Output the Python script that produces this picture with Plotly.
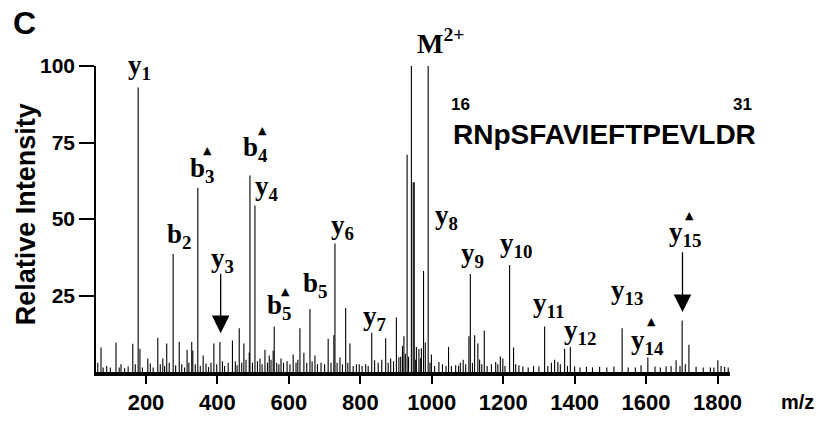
import plotly.graph_objects as go

# ---- data ----
peak_mz = [74, 116, 163, 178, 183, 205, 233, 247, 258, 276, 293, 315, 328, 331, 345, 360,
           390, 407, 442, 461, 474, 489, 491, 505, 519, 533, 545, 556, 559, 578, 612, 631,
           642, 659, 673, 710, 726, 729, 743, 759, 771, 789, 832, 840, 871, 885, 901, 908,
           918, 922, 931, 943, 948, 951, 957, 964, 971, 977, 982, 990, 999, 1020, 1047,
           1067, 1088, 1104, 1108, 1120, 1129, 1134, 1147, 1167, 1179, 1192, 1199, 1218,
           1229, 1244, 1316, 1344, 1353, 1372, 1388, 1433, 1470, 1533, 1586, 1605, 1656,
           1684, 1701, 1720, 1740, 1801, 1820]
peak_int = [8, 9.6, 9.2, 93, 7.6, 4.4, 11.2, 4.4, 9.3, 38.6, 9.9, 7.3, 9.8, 7, 60.2, 5.4,
            9.3, 9.8, 10.3, 14.3, 9.3, 6.4, 64.2, 54.4, 4.4, 7.3, 5.4, 7, 14.9, 4.4, 5.7, 14.3,
            6.3, 20.6, 5.4, 10.9, 12, 42, 4.7, 20.9, 9.3, 2.5, 12.8, 3.8, 11, 4.4, 17.8, 4.8,
            8.5, 11.7, 71, 100, 62, 62, 8.2, 7.5, 7.8, 33, 9.6, 100, 5.7, 3.3, 8.2,
            2.2, 4, 11.7, 32, 12, 9.3, 4.1, 13.6, 2.5, 3.3, 5.1, 4.4, 35,
            8, 2.2, 14.9, 4, 3.3, 7.6, 8.2, 1.7, 1.7, 14.3, 2.2, 4.7, 1.9,
            3.8, 16.8, 8.9, 1.7, 3.8, 1.7]

noise_mz = [65, 80, 90, 100, 125, 130, 140, 150, 170, 190, 212, 220, 240, 252, 265, 283, 300,
            308, 320, 338, 352, 368, 375, 382, 398, 414, 420, 430, 450, 455, 468, 480, 498,
            512, 525, 540, 550, 566, 572, 585, 595, 603, 620, 625, 650, 665, 680, 690, 700,
            718, 735, 750, 765, 780, 797, 805, 815, 822, 850, 860, 878, 893, 913, 926, 935,
            955, 968, 995, 1008, 1030, 1040, 1055, 1075, 1080, 1095, 1114, 1140, 1155, 1185,
            1205, 1235, 1255, 1270, 1285, 1300, 1325, 1335, 1360, 1380, 1400, 1415, 1450,
            1490, 1510, 1550, 1570, 1625, 1640, 1670, 1695, 1710, 1760, 1780, 1790, 1810, 1830]
noise_int = [3, 1.5, 2, 1.5, 1.5, 2.5, 1.2, 1.8, 2.5, 1.5, 2.8, 1.5, 2.5, 2, 3, 2.2, 2.5,
             1.5, 3, 2.5, 2, 2.8, 1.6, 3, 2.5, 3.5, 2, 3, 3.5, 2.2, 3, 4, 3,
             3.5, 2.5, 3, 4, 3, 2.5, 3, 3.5, 2.5, 3, 4, 3, 3.5, 2.5, 3, 2.5,
             3, 3, 2.5, 3, 2, 2.5, 2, 2.5, 2, 3, 4, 3, 3.5, 5, 6, 5,
             4, 4.5, 3, 2, 2.5, 2, 2, 2, 3, 2.5, 3, 2.5, 2, 2.5,
             2, 2.5, 1.8, 1.5, 2, 1.8, 2, 3, 2.5, 2, 1.8, 1.5, 1.5,
             1.5, 1.8, 1.5, 1.5, 1.8, 1.5, 2, 2, 2.5, 1.5, 1.5, 1.5, 2, 1.5]

# ion labels: text, m/z position, intensity position
label_text = ["y<sub>1</sub>", "b<sub>2</sub>", "b<sub>3</sub>", "y<sub>3</sub>", "b<sub>4</sub>",
              "y<sub>4</sub>", "b<sub>5</sub>", "b<sub>5</sub>", "y<sub>6</sub>", "y<sub>7</sub>",
              "y<sub>8</sub>", "y<sub>9</sub>", "y<sub>10</sub>", "y<sub>11</sub>",
              "y<sub>12</sub>", "y<sub>13</sub>", "y<sub>14</sub>", "y<sub>15</sub>"]
label_mz = [183, 292, 357, 413, 507, 539, 572, 673, 751, 840, 1042, 1115, 1235, 1326,
            1414, 1548, 1604, 1710]
label_int = [99.7, 44.3, 66, 36.7, 72.8, 60, 21.2, 28.5, 47.5, 17.7, 50.6, 38.3, 41.5,
             22.0, 13.2, 26, 9.8, 45]

# filled-triangle marks (phospho-loss ions)
tri_mz = [373, 527, 591, 1615, 1722]
tri_int = [72.5, 78.8, 26.3, 16.5, 51]

# arrows: m/z, tail intensity, head intensity
arrow_mz = [409, 1702]
arrow_tail = [32.6, 39.6]
arrow_head = [12.7, 19.6]

x_ticks = [200, 400, 600, 800, 1000, 1200, 1400, 1600, 1800]
y_ticks = [25, 50, 75, 100]

# ---- build figure ----
all_mz = peak_mz + noise_mz
all_int = peak_int + noise_int
xs, ys = [], []
for m, v in zip(all_mz, all_int):
    xs += [m, m, None]
    ys += [0, v, None]

fig = go.Figure()
fig.add_trace(go.Scatter(x=xs, y=ys, mode="lines",
                         line=dict(color="black", width=1.1),
                         hoverinfo="skip", showlegend=False))

serif = "Liberation Serif"
sans = "Liberation Sans"
ann = []
for t, m, v in zip(label_text, label_mz, label_int):
    ann.append(dict(x=m, y=v, xref="x", yref="y", text="<b>" + t + "</b>", showarrow=False,
                    font=dict(family=serif, size=27, color="black"),
                    xanchor="center", yanchor="middle"))
for m, v in zip(tri_mz, tri_int):
    ann.append(dict(x=m, y=v, xref="x", yref="y", text="▲", showarrow=False,
                    font=dict(family="DejaVu Sans", size=11, color="black"),
                    xanchor="center", yanchor="middle"))
for m, t0, h in zip(arrow_mz, arrow_tail, arrow_head):
    ann.append(dict(x=m, y=h, ax=m, ay=t0, xref="x", yref="y", axref="x", ayref="y",
                    text="", showarrow=True, arrowhead=2, arrowsize=2.7, arrowwidth=1.3,
                    arrowcolor="black", standoff=0))

ann.append(dict(x=0.544, y=1.079, xref="paper", yref="paper", text="<b>M<sup>2+</sup></b>",
                showarrow=False, font=dict(family=serif, size=28, color="black"),
                xanchor="center", yanchor="middle"))
ann.append(dict(x=1484, y=77.5, xref="x", yref="y", text="<b>RNpSFAVIEFTPEVLDR</b>",
                showarrow=False, font=dict(family=sans, size=28, color="black"),
                xanchor="center", yanchor="middle"))
ann.append(dict(x=1081, y=87.3, xref="x", yref="y", text="<b>16</b>", showarrow=False,
                font=dict(family=sans, size=17, color="black"), xanchor="center", yanchor="middle"))
ann.append(dict(x=1.019, y=0.873, xref="paper", yref="paper", text="<b>31</b>", showarrow=False,
                font=dict(family=sans, size=17, color="black"), xanchor="center", yanchor="middle"))
ann.append(dict(x=-0.112, y=1.139, xref="paper", yref="paper", text="<b>C</b>", showarrow=False,
                font=dict(family=sans, size=32, color="black"), xanchor="center", yanchor="middle"))
ann.append(dict(x=-0.11, y=0.516, xref="paper", yref="paper", text="<b>Relative Intensity</b>",
                textangle=-90, showarrow=False,
                font=dict(family=sans, size=27, color="black"), xanchor="center", yanchor="middle"))
ann.append(dict(x=1.1355, y=-0.098, xref="paper", yref="paper", text="<b>m/z</b>", showarrow=False,
                font=dict(family=sans, size=20, color="black"), xanchor="right", yanchor="middle"))

fig.update_layout(
    width=816, height=427,
    margin=dict(l=96, r=86, t=66, b=45),
    paper_bgcolor="white", plot_bgcolor="white",
    annotations=ann,
    xaxis=dict(range=[60, 1835], tickvals=x_ticks, ticks="outside", ticklen=8, tickwidth=1.5,
               tickcolor="black", showline=True, linewidth=3.5, linecolor="black",
               showgrid=False, zeroline=False,
               tickfont=dict(family=sans, size=22, color="black", weight="bold")),
    yaxis=dict(range=[0, 100], tickvals=y_ticks, ticks="outside", ticklen=15, tickwidth=1.5,
               tickcolor="black", showline=True, linewidth=1.5, linecolor="black",
               showgrid=False, zeroline=False,
               tickfont=dict(family=sans, size=21, color="black", weight="bold")),
)

fig.write_html("out.html")
